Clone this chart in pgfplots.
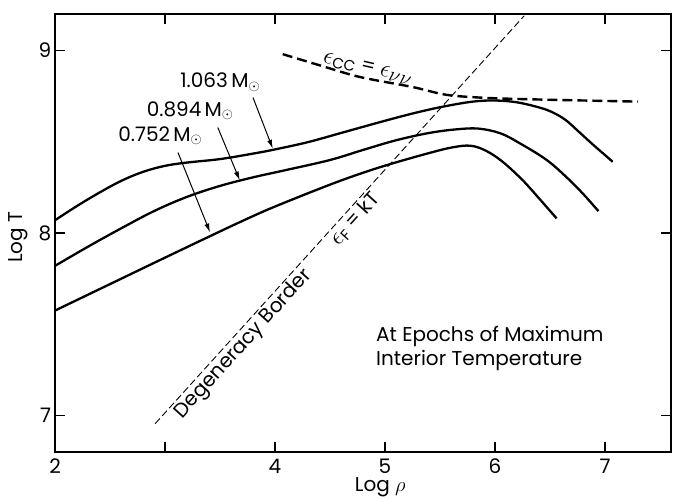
\documentclass[border=0pt]{standalone}
\usepackage{fontspec}
\setmainfont{Poppins}
\usepackage{pgfplots}
\pgfplotsset{compat=1.18}
\usetikzlibrary{arrows.meta}

% maximum-interior-temperature tracks (Log rho, Log T)
\pgfplotstableread{
x y
2.00 8.07
2.20 8.148
2.40 8.22
2.60 8.285
2.80 8.335
3.00 8.368
3.20 8.386
3.50 8.405
3.80 8.435
4.00 8.458
4.30 8.498
4.60 8.548
5.00 8.615
5.30 8.662
5.55 8.695
5.80 8.72
6.00 8.726
6.20 8.716
6.40 8.688
6.52 8.662
6.64 8.62
6.76 8.556
6.88 8.49
7.00 8.427
7.07 8.39
}\tracka

\pgfplotstableread{
x y
2.00 7.82
2.30 7.925
2.60 8.025
2.90 8.12
3.20 8.198
3.50 8.258
3.80 8.305
4.10 8.345
4.50 8.40
4.80 8.455
5.10 8.508
5.40 8.548
5.65 8.568
5.85 8.572
6.05 8.546
6.23 8.49
6.47 8.40
6.66 8.30
6.80 8.215
6.94 8.12
}\trackb

\pgfplotstableread{
x y
2.00 7.575
2.50 7.72
3.00 7.865
3.40 7.98
3.70 8.065
4.00 8.145
4.50 8.265
4.80 8.33
5.05 8.378
5.40 8.438
5.62 8.47
5.78 8.478
5.92 8.45
6.07 8.39
6.25 8.29
6.40 8.19
6.56 8.08
}\trackc

% carbon burning = neutrino losses
\pgfplotstableread{
x y
4.07 8.98
4.40 8.92
4.77 8.855
5.25 8.80
5.56 8.757
5.93 8.74
6.50 8.73
7.30 8.72
}\ccnu

\newcommand{\msun}{\,M\raisebox{-2.5bp}{\fontsize{15bp}{15bp}\selectfont$\odot$}}

\begin{document}
\begin{tikzpicture}
\fontsize{20bp}{24bp}\selectfont
\begin{axis}[
  scale only axis,
  width=616bp, height=438bp,
  xmin=2, xmax=7.6, ymin=6.8, ymax=9.2,
  xtick={2,3,4,5,6,7}, xticklabels={2,,4,5,6,7},
  ytick={7,8,9},
  /pgf/number format/assume math mode=true,
  tick align=inside,
  major tick length=10bp,
  every tick/.style={black, line width=1.3bp},
  axis line style={line width=2bp},
  ticklabel style={font=\fontsize{20bp}{24bp}\selectfont},
  xticklabel style={yshift=0bp},
  yticklabel style={xshift=3bp},
  label style={font=\fontsize{20bp}{24bp}\selectfont},
  xlabel={Log $\rho$},
  xlabel style={at={(rel axis cs:0.528,-0.0913)}, anchor=base},
  ylabel={Log T},
  ylabel style={at={(rel axis cs:-0.052,0.49)}, anchor=base},
  clip=false,
]
\coordinate (bbsw) at (rel axis cs:0,0);
\coordinate (bbne) at (rel axis cs:1,1);

\addplot[black, line width=2.3bp, smooth, tension=0.6] table {\tracka};
\addplot[black, line width=2.3bp, smooth, tension=0.6] table {\trackb};
\addplot[black, line width=2.3bp, smooth, tension=0.6] table {\trackc};
\addplot[black, line width=2.4bp, dash pattern=on 10bp off 5bp, smooth, tension=0.5] table {\ccnu};

% degeneracy border, T proportional to rho^(2/3)
\addplot[black, line width=0.9bp, dash pattern=on 7bp off 3.5bp] coordinates {(2.91,6.955) (6.265,9.19)}
  node[pos=0.215, sloped, below, inner sep=2bp] {Degeneracy Border}
  node[pos=0.52, sloped, below, inner sep=2bp] {{\fontsize{24bp}{24bp}\selectfont$\epsilon$}\raisebox{-3bp}{\fontsize{15bp}{15bp}\selectfont F} = kT};

\node[rotate=-13] at (axis cs:4.84,8.90) {{\fontsize{24bp}{24bp}\selectfont$\epsilon$}\raisebox{-3bp}{\fontsize{15bp}{15bp}\selectfont CC} = {\fontsize{24bp}{24bp}\selectfont$\epsilon$}\raisebox{-3bp}{\fontsize{20bp}{20bp}\selectfont$\nu\nu$}};

\node at (axis cs:3.50,8.825) {1.063\msun};
\node at (axis cs:3.227,8.671) {0.894\msun};
\node at (axis cs:2.955,8.534) {0.752\msun};

\draw[line width=1bp, -{Latex[length=9bp,width=5bp]}] (axis cs:3.80,8.742) -- (axis cs:3.98,8.462);
\draw[line width=1bp, -{Latex[length=9bp,width=5bp]}] (axis cs:3.48,8.578) -- (axis cs:3.68,8.288);
\draw[line width=1bp, -{Latex[length=9bp,width=5bp]}] (axis cs:3.118,8.441) -- (axis cs:3.41,8.003);

\node[anchor=west, align=left, inner sep=0pt] at (axis cs:4.918,7.365)
  {At Epochs of Maximum\\Interior Temperature};
\end{axis}
\pgfresetboundingbox
\path[use as bounding box] ([xshift=-55bp,yshift=-46bp]bbsw) rectangle ([xshift=3bp,yshift=14bp]bbne);
\end{tikzpicture}
\end{document}
